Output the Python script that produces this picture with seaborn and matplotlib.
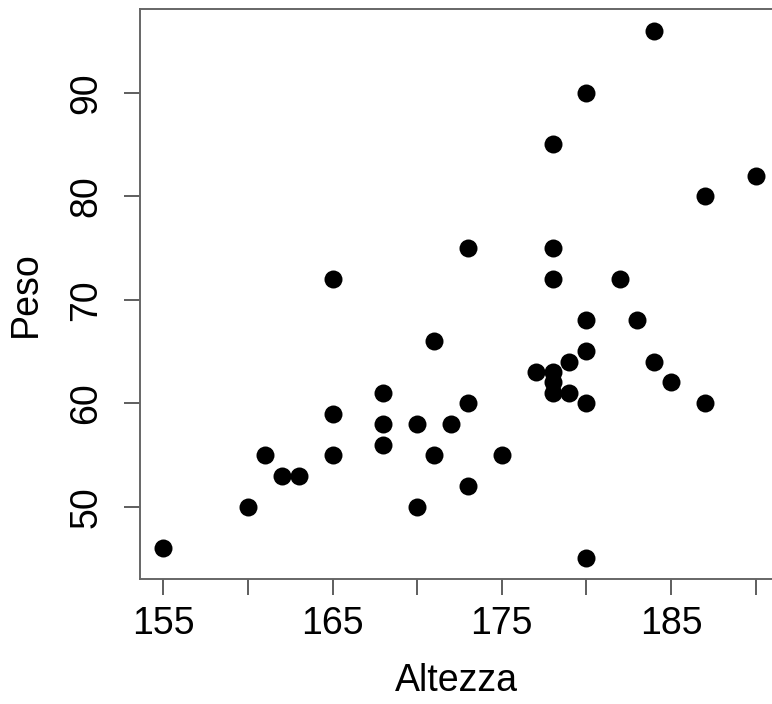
import numpy as np
import pandas as pd
import matplotlib
matplotlib.use('Agg')
import matplotlib.pyplot as plt
import seaborn as sns

# Data
altezza = [155, 160, 161, 162, 163, 165, 165, 165, 168, 168,
           168, 170, 170, 171, 171, 172, 173, 173, 173, 175,
           177, 178, 178, 178, 178, 178, 178, 179, 179, 180,
           180, 180, 180, 180, 182, 183, 184, 184, 185, 187,
           187, 190]
peso = [46, 50, 55, 53, 53, 72, 59, 55, 61, 58,
        56, 58, 50, 66, 55, 58, 75, 60, 52, 55,
        63, 85, 75, 72, 63, 62, 61, 64, 61, 90,
        68, 65, 60, 45, 72, 68, 96, 64, 62, 80,
        60, 82]

x_ticks = [155, 160, 165, 170, 175, 180, 185, 190]
x_ticklabels = ['155', '', '165', '', '175', '', '185', '']
y_ticks = [50, 60, 70, 80, 90]

df = pd.DataFrame({'Altezza': altezza, 'Peso': peso})

sns.set_style('white')
plt.rcParams['font.family'] = ['Liberation Sans', 'DejaVu Sans']
plt.rcParams['text.color'] = 'black'
plt.rcParams['axes.labelcolor'] = 'black'
plt.rcParams['xtick.labelcolor'] = 'black'
plt.rcParams['ytick.labelcolor'] = 'black'

fig = plt.figure(figsize=(7.72, 7.04), dpi=100)
ax = fig.add_axes([140 / 772, 125 / 704, 632 / 772, 570 / 704])

sns.scatterplot(data=df, x='Altezza', y='Peso', color='black', s=168,
                edgecolor='black', linewidth=0, ax=ax)

ax.set_xlim(153.62, 190.97)
ax.set_ylim(43.01, 98.09)

ax.set_xticks(x_ticks)
ax.set_xticklabels(x_ticklabels)
ax.set_yticks(y_ticks)
ax.set_yticklabels([str(v) for v in y_ticks], rotation=90, va='center')

ax.tick_params(axis='both', direction='out', length=11.5, width=1.1,
               color='#333333', labelsize=27, labelcolor='black',
               bottom=True, left=True)
ax.tick_params(axis='x', pad=8)
ax.tick_params(axis='y', pad=14)

for side in ['top', 'bottom', 'left']:
    ax.spines[side].set_color('#666666')
    ax.spines[side].set_linewidth(1.4)
ax.spines['right'].set_visible(False)

ax.set_xlabel('Altezza', fontsize=27, labelpad=15, color='black')
ax.set_ylabel('Peso', fontsize=27, labelpad=18, color='black')

fig.savefig('out.png', dpi=100)
